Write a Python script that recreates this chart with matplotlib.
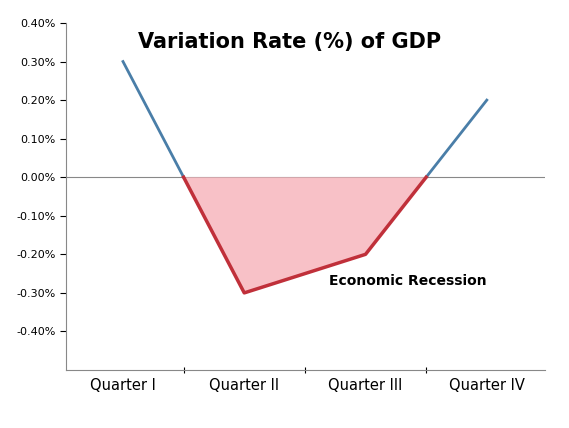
import matplotlib
matplotlib.use("Agg")
import matplotlib.pyplot as plt
import numpy as np

quarters = ["Quarter I", "Quarter II", "Quarter III", "Quarter IV"]
rates = [0.30, -0.30, -0.20, 0.20]
yticks = [0.40, 0.30, 0.20, 0.10, 0.0, -0.10, -0.20, -0.30, -0.40]

fig = plt.figure(figsize=(5.69, 4.28), dpi=100)
ax = fig.add_axes([66/569, 1-370/428, (545-66)/569, (370-23)/428])
x = np.arange(len(quarters))
y = np.array(rates)

def cross(i):
    return x[i] + y[i] / (y[i] - y[i+1])
c1, c2 = cross(0), cross(2)
blue = "#4a7ea8"
red = "#c0303a"
ax.plot([x[0], c1], [y[0], 0], color=blue, lw=2)
ax.plot([c2, x[3]], [0, y[3]], color=blue, lw=2)
rx = [c1, x[1], x[2], c2]
ry = [0, y[1], y[2], 0]
ax.plot(rx, ry, color=red, lw=2.5)
ax.fill(rx, ry, color="#f7b6bd", alpha=0.85, lw=0)
ax.axhline(0, color="#888888", lw=0.8, zorder=0)

ax.set_xlim(-0.47, 3.48)
ax.set_ylim(-0.5, 0.4)
ax.set_yticks(yticks)
ax.set_yticklabels([f"{v:.2f}%" for v in yticks], fontsize=8)
ax.set_xticks([0.5, 1.5, 2.5], minor=False)
ax.set_xticklabels([])
ax.set_xticks(x, minor=True)
ax.set_xticklabels(quarters, minor=True, fontsize=10.5)
ax.tick_params(axis="x", which="minor", length=0, pad=6)
ax.tick_params(axis="x", which="major", length=5, direction="inout")
ax.tick_params(axis="y", length=4, direction="out")
for s in ["top", "right"]:
    ax.spines[s].set_visible(False)
for s in ["left", "bottom"]:
    ax.spines[s].set_color("#888888")

fig.text(290/569, 1-42/428, "Variation Rate (%) of GDP", ha="center", va="center",
         fontsize=15, fontweight="bold")
ax.text(2.35, -0.27, "Economic Recession", ha="center", va="center",
        fontsize=10, fontweight="bold")
fig.savefig("out.png", dpi=100)
